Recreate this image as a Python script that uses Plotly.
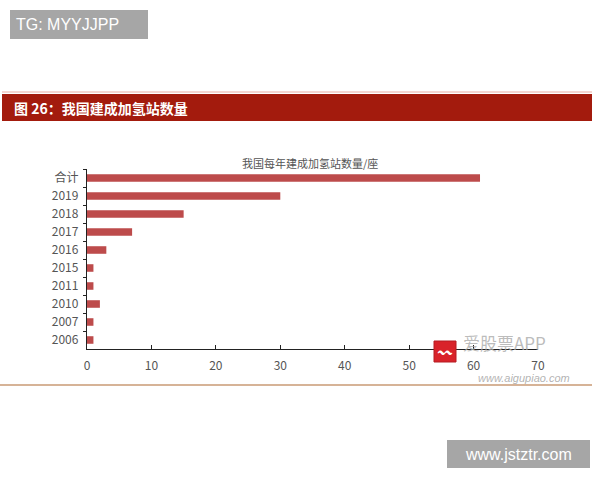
import plotly.graph_objects as go

categories = ["合计", "2019", "2018", "2017", "2016", "2015", "2011", "2010", "2007", "2006"]
stations = [61, 30, 15, 7, 3, 1, 1, 2, 1, 1]
x_ticks = [0, 10, 20, 30, 40, 50, 60, 70]

W, H = 600, 480
def fx(px):
    return px / W
def fy(py):
    return 1 - py / H

fig = go.Figure()
fig.add_trace(go.Bar(
    y=categories, x=stations, orientation="h",
    marker=dict(color="#bd4b4b", line=dict(width=0)),
    width=0.42,
))

CJK = "Noto Sans CJK SC"
fig.update_layout(
    width=W, height=H, template="none",
    margin=dict(l=0, r=0, t=0, b=0),
    paper_bgcolor="white", plot_bgcolor="white",
    showlegend=False,
    xaxis=dict(
        domain=[fx(87), fx(538)], range=[0, 70], tickvals=x_ticks,
        showgrid=False, zeroline=False, showline=True, linecolor="#222", linewidth=1.3,
        ticks="inside", ticklen=4, tickcolor="#222", ticklabelstandoff=5,
        tickfont=dict(family=CJK, size=12, color="#555"), automargin=False,
    ),
    yaxis=dict(
        domain=[fy(349), fy(169)], type="category",
        categoryorder="array", categoryarray=categories, autorange="reversed",
        showgrid=False, zeroline=False, showline=True, linecolor="#222", linewidth=1.3,
        ticks="outside", ticklen=3, tickcolor="#222", tickson="boundaries",
        ticklabelstandoff=5,
        tickfont=dict(family=CJK, size=12, color="#555"), automargin=False,
    ),
)

shapes = [
    dict(type="line", xref="paper", yref="paper", x0=fx(2), x1=fx(592), y0=fy(92), y1=fy(92),
         line=dict(color="#f1c9c2", width=1.5)),
    dict(type="rect", xref="paper", yref="paper", x0=fx(2), x1=fx(592), y0=fy(121), y1=fy(94),
         fillcolor="#a31b0d", line=dict(width=0)),
    dict(type="line", xref="paper", yref="paper", x0=fx(0), x1=fx(592), y0=fy(385), y1=fy(385),
         line=dict(color="#c99a74", width=1.5)),
    dict(type="rect", xref="paper", yref="paper", x0=fx(10), x1=fx(148), y0=fy(39), y1=fy(10),
         fillcolor="#a6a6a6", line=dict(width=0)),
    dict(type="rect", xref="paper", yref="paper", x0=fx(447), x1=fx(590), y0=fy(468), y1=fy(440),
         fillcolor="#a6a6a6", line=dict(width=0)),
    dict(type="rect", xref="paper", yref="paper", x0=fx(434), x1=fx(456), y0=fy(362), y1=fy(341),
         fillcolor="#d9232a", line=dict(color="#b51c22", width=1)),
]

annotations = [
    dict(text="<b>图 26：我国建成加氢站数量</b>", xref="paper", yref="paper", x=fx(12), y=fy(107.5),
         xanchor="left", yanchor="middle", showarrow=False,
         font=dict(family=CJK, size=14, color="white")),
    dict(text="我国每年建成加氢站数量/座", xref="paper", yref="paper", x=fx(310), y=fy(163),
         xanchor="center", yanchor="middle", showarrow=False,
         font=dict(family=CJK, size=11, color="#555")),
    dict(text="TG: MYYJJPP", xref="paper", yref="paper", x=fx(14), y=fy(24.5),
         xanchor="left", yanchor="middle", showarrow=False,
         font=dict(family="Liberation Sans", size=16, color="white")),
    dict(text="www.jstztr.com", xref="paper", yref="paper", x=fx(518.5), y=fy(454),
         xanchor="center", yanchor="middle", showarrow=False,
         font=dict(family="Liberation Sans", size=16, color="white")),
    dict(text="爱股票APP", xref="paper", yref="paper", x=fx(461), y=fy(342),
         xanchor="left", yanchor="middle", showarrow=False,
         font=dict(family=CJK, size=17, color="rgba(170,170,170,0.8)")),
    dict(text="<i>www.aigupiao.com</i>", xref="paper", yref="paper", x=fx(524), y=fy(378),
         xanchor="center", yanchor="middle", showarrow=False,
         font=dict(family="Liberation Sans", size=11, color="rgba(170,170,170,0.9)")),
    dict(text="〰", xref="paper", yref="paper", x=fx(445), y=fy(352),
         xanchor="center", yanchor="middle", showarrow=False,
         font=dict(family="DejaVu Sans", size=14, color="white")),
]

fig.update_layout(shapes=shapes, annotations=annotations)
fig.write_html("out.html", config={"displayModeBar": False},
               post_script="document.body.style.margin='0';")
